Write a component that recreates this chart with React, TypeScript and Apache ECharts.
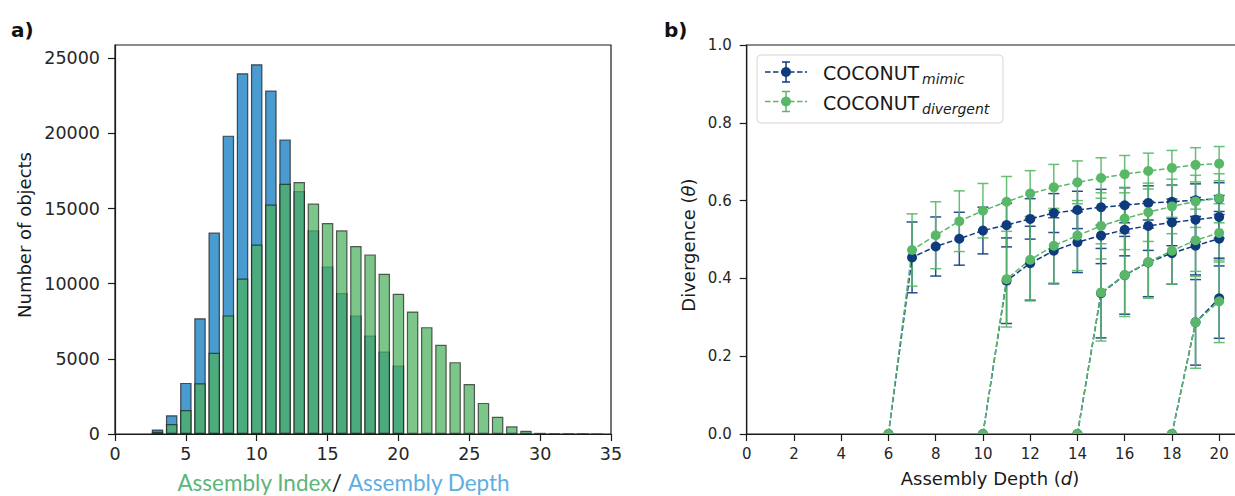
import React, { useEffect, useRef } from "react";
import * as echarts from "echarts";

// ---------- Panel a) histogram data ----------
const depthBins = [3, 4, 5, 6, 7, 8, 9, 10, 11, 12, 13, 14, 15, 16, 17, 18, 19, 20];
const depthCounts = [300, 1250, 3400, 7700, 13400, 19850, 24000, 24600, 22850, 19600, 16170, 13550, 11150, 9380, 7890, 6550, 5490, 4550];
const indexBins = [3, 4, 5, 6, 7, 8, 9, 10, 11, 12, 13, 14, 15, 16, 17, 18, 19, 20, 21, 22, 23, 24, 25, 26, 27, 28, 29, 30, 31, 32, 33, 34];
const indexCounts = [150, 670, 1600, 3370, 5400, 7890, 10350, 12600, 15270, 16650, 16770, 15330, 14040, 13550, 12510, 11950, 10660, 9330, 8150, 7110, 5930, 4780, 3330, 2070, 1150, 510, 220, 80, 30, 10, 5, 2];
const histXTicks = [0, 5, 10, 15, 20, 25, 30, 35];
const histYTicks = [0, 5000, 10000, 15000, 20000, 25000];

// ---------- Panel b) divergence data ----------
const startDepths = [6, 10, 14, 18];
const mimicFrom6 = [0, 0.454, 0.482, 0.502, 0.523, 0.537, 0.553, 0.568, 0.576, 0.583, 0.588, 0.594, 0.597, 0.601, 0.605];
const mimicFrom6Err = [0, 0.091, 0.076, 0.068, 0.06, 0.056, 0.052, 0.05, 0.048, 0.046, 0.045, 0.044, 0.043, 0.042, 0.041];
const divFrom6 = [0, 0.473, 0.511, 0.547, 0.574, 0.597, 0.618, 0.634, 0.647, 0.658, 0.668, 0.676, 0.684, 0.692, 0.695];
const divFrom6Err = [0, 0.093, 0.086, 0.078, 0.07, 0.065, 0.059, 0.059, 0.055, 0.052, 0.048, 0.046, 0.045, 0.044, 0.044];
const mimicFrom10 = [0, 0.394, 0.439, 0.471, 0.493, 0.51, 0.525, 0.535, 0.544, 0.551, 0.558];
const mimicFrom10Err = [0, 0.11, 0.095, 0.085, 0.078, 0.072, 0.067, 0.063, 0.06, 0.057, 0.055];
const divFrom10 = [0, 0.398, 0.448, 0.484, 0.51, 0.535, 0.554, 0.57, 0.585, 0.598, 0.606];
const divFrom10Err = [0, 0.123, 0.106, 0.096, 0.09, 0.085, 0.08, 0.075, 0.07, 0.067, 0.063];
const mimicFrom14 = [0, 0.362, 0.408, 0.441, 0.465, 0.484, 0.502];
const mimicFrom14Err = [0, 0.115, 0.1, 0.088, 0.08, 0.075, 0.07];
const divFrom14 = [0, 0.364, 0.409, 0.442, 0.471, 0.498, 0.517];
const divFrom14Err = [0, 0.125, 0.107, 0.093, 0.086, 0.08, 0.075];
const mimicFrom18 = [0, 0.287, 0.349];
const mimicFrom18Err = [0, 0.11, 0.103];
const divFrom18 = [0, 0.287, 0.341];
const divFrom18Err = [0, 0.118, 0.106];
const divXTicks = [0, 2, 4, 6, 8, 10, 12, 14, 16, 18, 20];

const mimicCurves = [mimicFrom6, mimicFrom10, mimicFrom14, mimicFrom18];
const mimicErrs = [mimicFrom6Err, mimicFrom10Err, mimicFrom14Err, mimicFrom18Err];
const divCurves = [divFrom6, divFrom10, divFrom14, divFrom18];
const divErrs = [divFrom6Err, divFrom10Err, divFrom14Err, divFrom18Err];

const NAVY = "#0f3a7e";
const GREEN = "#58b868";
const FONT = "DejaVu Sans";
const AXIS = "#1a1a1a";
const LABEL = "#262626";
const HALF_CIRCLE = "path://M0 10 A10 10 0 0 1 20 10 Z";

function curveData(start: number, vals: number[]) {
  return vals.map((v, i) =>
    i === 0
      ? { value: [start + i, v], symbol: HALF_CIRCLE, symbolSize: [10, 5], symbolOffset: [0, -2.5] }
      : { value: [start + i, v] }
  );
}
function errData(start: number, vals: number[], errs: number[]) {
  const out: number[][] = [];
  vals.forEach((v, i) => {
    if (errs[i] > 0) out.push([start + i, v - errs[i], v + errs[i]]);
  });
  return out;
}
function errorSeries(data: number[][], color: string) {
  return {
    type: "custom",
    xAxisIndex: 1,
    yAxisIndex: 1,
    z: 2,
    encode: { x: 0, y: [1, 2] },
    data,
    renderItem: (_p: any, api: any) => {
      const x = api.value(0);
      const top = api.coord([x, api.value(2)]);
      const bot = api.coord([x, api.value(1)]);
      const hw = 5.5;
      const style = { stroke: color, lineWidth: 1.5, opacity: 0.9 };
      return {
        type: "group",
        children: [
          { type: "line", shape: { x1: top[0], y1: top[1], x2: bot[0], y2: bot[1] }, style },
          { type: "line", shape: { x1: top[0] - hw, y1: top[1], x2: top[0] + hw, y2: top[1] }, style },
          { type: "line", shape: { x1: bot[0] - hw, y1: bot[1], x2: bot[0] + hw, y2: bot[1] }, style },
        ],
      };
    },
  };
}
function lineSeries(data: any[], color: string) {
  return {
    type: "line",
    xAxisIndex: 1,
    yAxisIndex: 1,
    z: 3,
    data,
    symbol: "circle",
    symbolSize: 10,
    showSymbol: true,
    itemStyle: { color },
    lineStyle: { color, width: 1.5, type: [5.5, 2.5] },
  };
}

function legendEntry(y: number, color: string, sub: string) {
  const s = { stroke: color, lineWidth: 1.5 };
  const z = 101;
  return [
    { type: "line", z, shape: { x1: 765, y1: y, x2: 807, y2: y }, style: { ...s, lineDash: [5.5, 2.5] } },
    { type: "line", z, shape: { x1: 786, y1: y - 10, x2: 786, y2: y + 10 }, style: s },
    { type: "line", z, shape: { x1: 782, y1: y - 10, x2: 790, y2: y - 10 }, style: s },
    { type: "line", z, shape: { x1: 782, y1: y + 10, x2: 790, y2: y + 10 }, style: s },
    { type: "circle", z, shape: { cx: 786, cy: y, r: 5 }, style: { fill: color } },
    {
      type: "text",
      z,
      x: 823,
      y: y + 1,
      style: { text: "COCONUT", font: `19px '${FONT}'`, fill: "#1a1a1a", verticalAlign: "middle", align: "left" },
    },
    {
      type: "text",
      z,
      x: 922,
      y: y + 7,
      style: { text: sub, font: `italic 14px '${FONT}'`, fill: "#1a1a1a", verticalAlign: "middle", align: "left" },
    },
  ];
}

export default function App() {
  const ref = useRef<HTMLDivElement>(null);
  useEffect(() => {
    if (!ref.current) return;
    const chart = echarts.init(ref.current, undefined, { renderer: "svg" });

    const series: any[] = [
      {
        type: "bar",
        xAxisIndex: 0,
        yAxisIndex: 0,
        data: depthBins.map((b, i) => [b, depthCounts[i]]),
        barWidth: 11.5,
        barGap: "-100%",
        itemStyle: { color: "#4a9bd0", borderColor: "rgba(30,30,30,0.75)", borderWidth: 1.2 },
      },
      {
        type: "bar",
        xAxisIndex: 0,
        yAxisIndex: 0,
        data: indexBins.map((b, i) => [b, indexCounts[i]]),
        barWidth: 11.5,
        barGap: "-100%",
        itemStyle: { color: "rgba(77,177,95,0.73)", borderColor: "rgba(30,30,30,0.7)", borderWidth: 1.2 },
      },
    ];
    startDepths.forEach((s, k) => {
      series.push(errorSeries(errData(s, mimicCurves[k], mimicErrs[k]), NAVY));
      series.push(lineSeries(curveData(s, mimicCurves[k]), NAVY));
      series.push(errorSeries(errData(s, divCurves[k], divErrs[k]), GREEN));
      series.push(lineSeries(curveData(s, divCurves[k]), GREEN));
    });

    const axisCommon = {
      axisLine: { show: true, onZero: false, lineStyle: { color: AXIS, width: 1.2 } },
      axisTick: { show: true, length: 7, lineStyle: { color: AXIS, width: 1.2 } },
      splitLine: { show: false },
    };

    chart.setOption({
      animation: false,
      textStyle: { fontFamily: FONT },
      grid: [
        { left: 115, top: 45, width: 496, height: 389, show: true, borderColor: AXIS, borderWidth: 1.2, backgroundColor: "transparent" },
        { left: 746.7, top: 45, width: 489, height: 389, show: true, borderColor: AXIS, borderWidth: 1.2, backgroundColor: "transparent" },
      ],
      xAxis: [
        {
          ...axisCommon,
          type: "value",
          gridIndex: 0,
          min: 0,
          max: 35,
          interval: 5,
          axisTick: { ...axisCommon.axisTick, customValues: histXTicks },
          axisLabel: { customValues: histXTicks, fontSize: 17.5, color: LABEL, margin: 11, fontFamily: FONT, formatter: (v: number) => String(v) },
        },
        {
          ...axisCommon,
          type: "value",
          gridIndex: 1,
          min: 0,
          max: 20.7,
          interval: 2,
          axisTick: { ...axisCommon.axisTick, customValues: divXTicks },
          axisLabel: { customValues: divXTicks, fontSize: 15, color: LABEL, margin: 12, fontFamily: FONT, formatter: (v: number) => String(v) },
        },
      ],
      yAxis: [
        {
          ...axisCommon,
          type: "value",
          gridIndex: 0,
          min: 0,
          max: 25880,
          interval: 5000,
          axisTick: { ...axisCommon.axisTick, customValues: histYTicks },
          axisLabel: { customValues: histYTicks, fontSize: 17.5, color: LABEL, margin: 15, fontFamily: FONT, formatter: (v: number) => String(v) },
        },
        {
          ...axisCommon,
          type: "value",
          gridIndex: 1,
          min: 0,
          max: 1,
          interval: 0.2,
          axisLabel: {
            fontSize: 15,
            color: LABEL,
            margin: 15,
            fontFamily: FONT,
            formatter: (v: number) => v.toFixed(1),
          },
        },
      ],
      series,
      graphic: [
        { type: "text", x: 11, y: 30, style: { text: "a)", font: `bold 20px '${FONT}'`, fill: "#111", verticalAlign: "middle" } },
        { type: "text", x: 664, y: 30, style: { text: "b)", font: `bold 20px '${FONT}'`, fill: "#111", verticalAlign: "middle" } },
        {
          type: "text",
          x: 24,
          y: 235,
          rotation: Math.PI / 2,
          style: { text: "Number of objects", font: `18px '${FONT}'`, fill: "#1a1a1a", align: "center", verticalAlign: "middle" },
        },
        {
          type: "text",
          x: 343.5,
          y: 482,
          style: {
            text: "{g|Assembly Index}{k|/ }{b|Assembly Depth}",
            align: "center",
            verticalAlign: "middle",
            rich: {
              g: { fontFamily: "Lato", fontSize: 22.5, fill: "#5cb57a", color: "#5cb57a", lineHeight: 24 },
              k: { fontFamily: "Lato", fontSize: 22.5, fill: "#111", color: "#111", lineHeight: 24 },
              b: { fontFamily: "Lato", fontSize: 22.5, fill: "#5eaedf", color: "#5eaedf", lineHeight: 24 },
            },
          },
        },
        {
          type: "text",
          x: 688,
          y: 245,
          rotation: Math.PI / 2,
          style: {
            text: "{r|Divergence (}{i|θ}{r|)}",
            align: "center",
            verticalAlign: "middle",
            rich: {
              r: { fontFamily: FONT, fontSize: 18, fill: "#1a1a1a", color: "#1a1a1a" },
              i: { fontFamily: FONT, fontSize: 18, fontStyle: "italic", fill: "#1a1a1a", color: "#1a1a1a" },
            },
          },
        },
        {
          type: "text",
          x: 990,
          y: 478,
          style: {
            text: "{r|Assembly Depth (}{i|d}{r|)}",
            align: "center",
            verticalAlign: "middle",
            rich: {
              r: { fontFamily: FONT, fontSize: 18, fill: "#1a1a1a", color: "#1a1a1a" },
              i: { fontFamily: FONT, fontSize: 18, fontStyle: "italic", fill: "#1a1a1a", color: "#1a1a1a" },
            },
          },
        },
        {
          type: "group",
          children: [
            {
              type: "rect",
              z: 100,
              shape: { x: 757, y: 55, width: 246, height: 68, r: 4 },
              style: { fill: "rgba(255,255,255,0.85)", stroke: "#d6d6d6", lineWidth: 1 },
            },
            ...(legendEntry(72, NAVY, "mimic") as any[]),
            ...(legendEntry(101.5, GREEN, "divergent") as any[]),
          ],
        },
      ],
    });
    return () => chart.dispose();
  }, []);
  return <div ref={ref} style={{ position: "fixed", left: 0, top: 0, width: 1240, height: 496, background: "#fff" }} />;
}
